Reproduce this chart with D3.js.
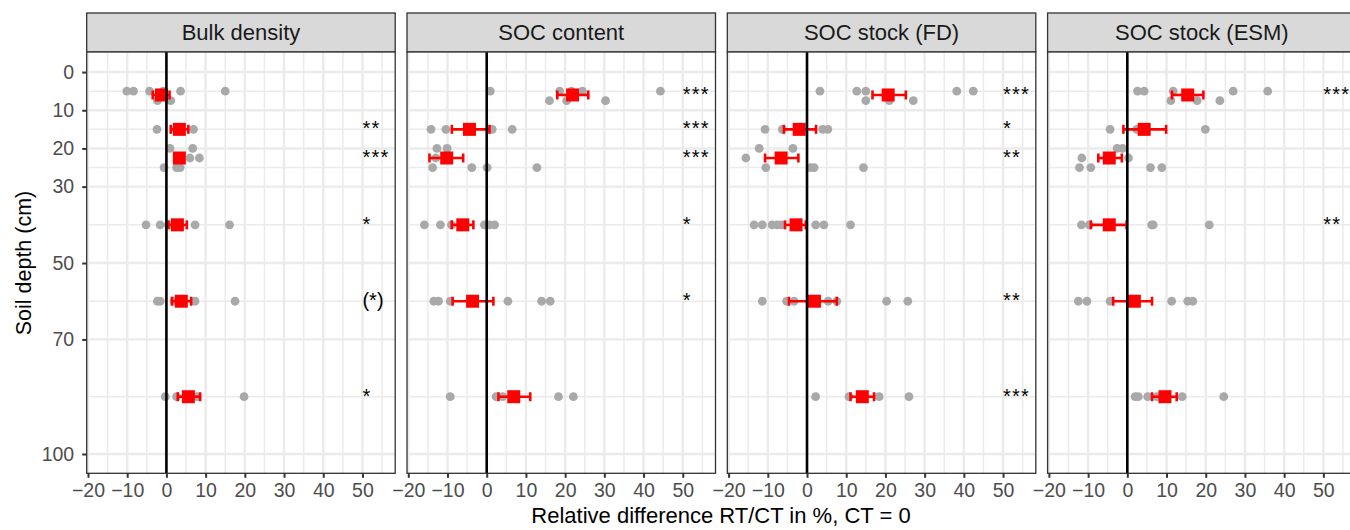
<!DOCTYPE html>
<html>
<head>
<meta charset="utf-8">
<script src="https://cdn.jsdelivr.net/npm/d3@7"></script>
<style>
  body { margin: 0; background: #fff; }
  text { font-family: "Liberation Sans", Arial, sans-serif; }
</style>
</head>
<body>
<div id="chart"></div>
<script>
// facet titles
var panels = ["Bulk density", "SOC content", "SOC stock (FD)", "SOC stock (ESM)"];
var xTicks = [-20, -10, 0, 10, 20, 30, 40, 50];
var xMinor = [-15, -5, 5, 15, 25, 35, 45, 55];
var yTicks = [0, 10, 20, 30, 50, 70, 100];
var yMinor = [5, 15, 25, 40, 60, 85];

// depth of the mean for each layer
var meanDepth = [6, 15, 22.5, 40, 60, 85];

// single sites: [depth, relative difference]
var bdPts = [[5,-10.1],[5,-8.4],[5,-4.3],[5,-0.8],[5,3.6],[5,15.0],[7.5,-2.3],[7.5,1.1],
  [15,-2.4],[15,2.5],[15,6.9],
  [20,0.9],[20,6.7],[22.5,6.0],[22.5,8.4],[25,-0.6],[25,2.6],[25,3.5],
  [40,-5.2],[40,-1.6],[40,0.5],[40,7.3],[40,16.1],
  [60,-2.3],[60,-1.6],[60,2.0],[60,7.3],[60,17.5],
  [85,-0.3],[85,2.6],[85,7.8],[85,19.8]];
var socPts = [[5,0.9],[5,18.6],[5,21.6],[5,24.4],[5,44.3],[7.5,16.0],[7.5,20.4],[7.5,30.3],
  [15,-14.2],[15,-10.4],[15,1.4],[15,6.5],
  [20,-12.7],[20,-10.1],[22.5,-13.0],[25,-13.8],[25,-3.8],[25,0.1],[25,12.8],
  [40,-15.9],[40,-11.8],[40,-9.0],[40,-0.6],[40,0.7],[40,2.0],
  [60,-13.5],[60,-12.3],[60,-9.3],[60,5.4],[60,14.0],[60,16.2],
  [85,-9.3],[85,2.4],[85,4.1],[85,18.3],[85,22.1]];
var fdPts = [[5,3.3],[5,12.7],[5,15.0],[5,38.2],[5,42.4],[7.5,15.0],[7.5,21.0],[7.5,27.1],
  [15,-10.7],[15,-6.3],[15,4.0],[15,5.3],
  [20,-12.2],[20,-3.6],[22.5,-15.6],[25,-10.5],[25,0.9],[25,1.8],[25,14.4],
  [40,-13.5],[40,-11.4],[40,-8.9],[40,-7.6],[40,-6.5],[40,2.2],[40,4.3],[40,11.1],
  [60,-11.4],[60,-5.2],[60,-3.3],[60,5.4],[60,7.6],[60,20.3],[60,25.7],
  [85,2.2],[85,10.7],[85,18.4],[85,26.0]];
var esmPts = [[5,2.6],[5,4.3],[5,11.7],[5,27.0],[5,35.8],[7.5,11.1],[7.5,17.8],[7.5,23.6],
  [15,-4.4],[15,2.4],[15,19.9],
  [20,-2.6],[20,-1.2],[22.5,-11.6],[22.5,0.3],[25,-12.2],[25,-9.3],[25,5.9],[25,8.8],
  [40,-11.7],[40,-9.7],[40,6.2],[40,6.6],[40,20.9],
  [60,-12.5],[60,-10.3],[60,-4.4],[60,11.3],[60,15.4],[60,16.7],
  [85,2.0],[85,2.8],[85,5.2],[85,7.5],[85,14.0],[85,24.6]];

// means with standard error: [mean, low, high]
var bdMean = [[-1.3,-3.5,0.8],[3.3,1.1,5.6],[3.3,2.5,4.1],[2.8,0.5,5.2],[3.8,1.4,6.3],[5.6,2.9,8.6]];
var socMean = [[21.9,18.0,25.9],[-4.4,-8.9,0.7],[-10.2,-14.6,-6.0],[-6.1,-8.9,-3.4],[-3.6,-8.7,1.7],[6.9,3.0,11.1]];
var fdMean = [[20.7,16.7,25.2],[-2.0,-5.9,2.3],[-6.6,-10.7,-2.2],[-2.8,-5.6,-0.3],[1.9,-4.6,7.6],[14.1,11.1,17.1]];
var esmMean = [[15.4,11.4,19.4],[4.3,-1.0,9.9],[-4.6,-7.4,-1.4],[-4.6,-9.3,-0.2],[1.8,-3.6,6.3],[9.6,6.3,12.6]];

// significance labels
var bdSig = ["", "**", "***", "*", "(*)", "*"];
var socSig = ["***", "***", "***", "*", "*", ""];
var fdSig = ["***", "*", "**", "", "**", "***"];
var esmSig = ["***", "", "", "**", "", ""];

var allPts = [bdPts, socPts, fdPts, esmPts];
var allMean = [bdMean, socMean, fdMean, esmMean];
var allSig = [bdSig, socSig, fdSig, esmSig];

var W = 1350, H = 530;
var panelLeft = 86.7, panelStep = 320.3, panelW = 308.5;
var stripTop = 13, panelTop = 52, panelBottom = 473.3;

var svg = d3.select("#chart").append("svg")
  .attr("width", W).attr("height", H);

var x = d3.scaleLinear().domain([-20.33, 58.35]).range([0, panelW]);
var y = d3.scaleLinear().domain([-5.25, 105.05]).range([panelTop, panelBottom]);

panels.forEach(function(name, k) {
  var g = svg.append("g").attr("transform", "translate(" + (panelLeft + k * panelStep) + ",0)");

  // strip
  g.append("rect").attr("x", 0).attr("y", stripTop).attr("width", panelW).attr("height", panelTop - stripTop)
    .attr("fill", "#D9D9D9").attr("stroke", "#333333").attr("stroke-width", 1.3);
  g.append("text").attr("x", panelW / 2).attr("y", (stripTop + panelTop) / 2)
    .attr("text-anchor", "middle").attr("dominant-baseline", "central")
    .attr("font-size", "22px").attr("fill", "#1A1A1A").text(name);

  // panel background + grid
  g.append("rect").attr("x", 0).attr("y", panelTop).attr("width", panelW).attr("height", panelBottom - panelTop)
    .attr("fill", "#fff");
  g.selectAll(".ymin").data(yMinor).enter().append("line")
    .attr("x1", 0).attr("x2", panelW).attr("y1", function(d) { return y(d); }).attr("y2", function(d) { return y(d); })
    .attr("stroke", "#EBEBEB").attr("stroke-width", 1.5);
  g.selectAll(".xmin").data(xMinor).enter().append("line")
    .attr("y1", panelTop).attr("y2", panelBottom).attr("x1", function(d) { return x(d); }).attr("x2", function(d) { return x(d); })
    .attr("stroke", "#EBEBEB").attr("stroke-width", 1.5);
  g.selectAll(".ymaj").data(yTicks).enter().append("line")
    .attr("x1", 0).attr("x2", panelW).attr("y1", function(d) { return y(d); }).attr("y2", function(d) { return y(d); })
    .attr("stroke", "#EBEBEB").attr("stroke-width", 2.4);
  g.selectAll(".xmaj").data(xTicks).enter().append("line")
    .attr("y1", panelTop).attr("y2", panelBottom).attr("x1", function(d) { return x(d); }).attr("x2", function(d) { return x(d); })
    .attr("stroke", "#EBEBEB").attr("stroke-width", 2.4);

  // gray points
  g.selectAll(".pt").data(allPts[k]).enter().append("circle")
    .attr("cx", function(d) { return x(d[1]); }).attr("cy", function(d) { return y(d[0]); })
    .attr("r", 4.4).attr("fill", "#A9A9A9");

  // error bars
  var m = allMean[k];
  g.selectAll(".eb").data(m).enter().append("line")
    .attr("x1", function(d) { return x(d[1]); }).attr("x2", function(d) { return x(d[2]); })
    .attr("y1", function(d, i) { return y(meanDepth[i]); }).attr("y2", function(d, i) { return y(meanDepth[i]); })
    .attr("stroke", "red").attr("stroke-width", 2.6);
  [1, 2].forEach(function(j) {
    g.selectAll(".cap" + j).data(m).enter().append("line")
      .attr("x1", function(d) { return x(d[j]); }).attr("x2", function(d) { return x(d[j]); })
      .attr("y1", function(d, i) { return y(meanDepth[i]) - 4.5; }).attr("y2", function(d, i) { return y(meanDepth[i]) + 4.5; })
      .attr("stroke", "red").attr("stroke-width", 2.6);
  });
  g.selectAll(".mean").data(m).enter().append("rect")
    .attr("x", function(d) { return x(d[0]) - 6.5; }).attr("y", function(d, i) { return y(meanDepth[i]) - 6.5; })
    .attr("width", 13).attr("height", 13).attr("fill", "red");

  // significance
  g.selectAll(".sig").data(allSig[k]).enter().append("text")
    .attr("x", x(50)).attr("y", function(d, i) { return y(meanDepth[i]) - 1; })
    .attr("dominant-baseline", "central").attr("font-size", "20px").attr("fill", "#000")
    .attr("letter-spacing", function(d) { return d.charAt(0) === "(" ? "0px" : "1.2px"; })
    .text(function(d) { return d; });

  // zero line
  g.append("line").attr("x1", x(0)).attr("x2", x(0)).attr("y1", panelTop).attr("y2", panelBottom)
    .attr("stroke", "#000").attr("stroke-width", 2.6);

  // border
  g.append("rect").attr("x", 0).attr("y", panelTop).attr("width", panelW).attr("height", panelBottom - panelTop)
    .attr("fill", "none").attr("stroke", "#333333").attr("stroke-width", 1.3);

  // x axis
  var xa = g.append("g").attr("transform", "translate(0," + panelBottom + ")")
    .call(d3.axisBottom(x).tickValues(xTicks).tickSize(4.5).tickPadding(5)
      .tickFormat(function(d) { return d < 0 ? "\u2212" + Math.abs(d) : d; }));
  xa.select(".domain").remove();
  xa.selectAll("line").attr("stroke", "#333333").attr("stroke-width", 2);
  xa.selectAll("text").attr("font-size", "19.5px").attr("fill", "#4D4D4D")
    .attr("font-family", "'Liberation Sans', Arial, sans-serif");

  if (k === 0) {
    var ya = g.append("g").call(d3.axisLeft(y).tickValues(yTicks).tickSize(4.5).tickPadding(8));
    ya.select(".domain").remove();
    ya.selectAll("line").attr("stroke", "#333333").attr("stroke-width", 2);
    ya.selectAll("text").attr("font-size", "19.5px").attr("fill", "#4D4D4D")
      .attr("font-family", "'Liberation Sans', Arial, sans-serif");
  }
});

// axis titles
svg.append("text").attr("x", 721).attr("y", 523).attr("text-anchor", "middle")
  .attr("font-size", "22px").attr("fill", "#000").text("Relative difference RT/CT in %, CT = 0");
svg.append("text").attr("transform", "translate(31,263) rotate(-90)").attr("text-anchor", "middle")
  .attr("font-size", "21.5px").attr("fill", "#000").text("Soil depth (cm)");
</script>
</body>
</html>
